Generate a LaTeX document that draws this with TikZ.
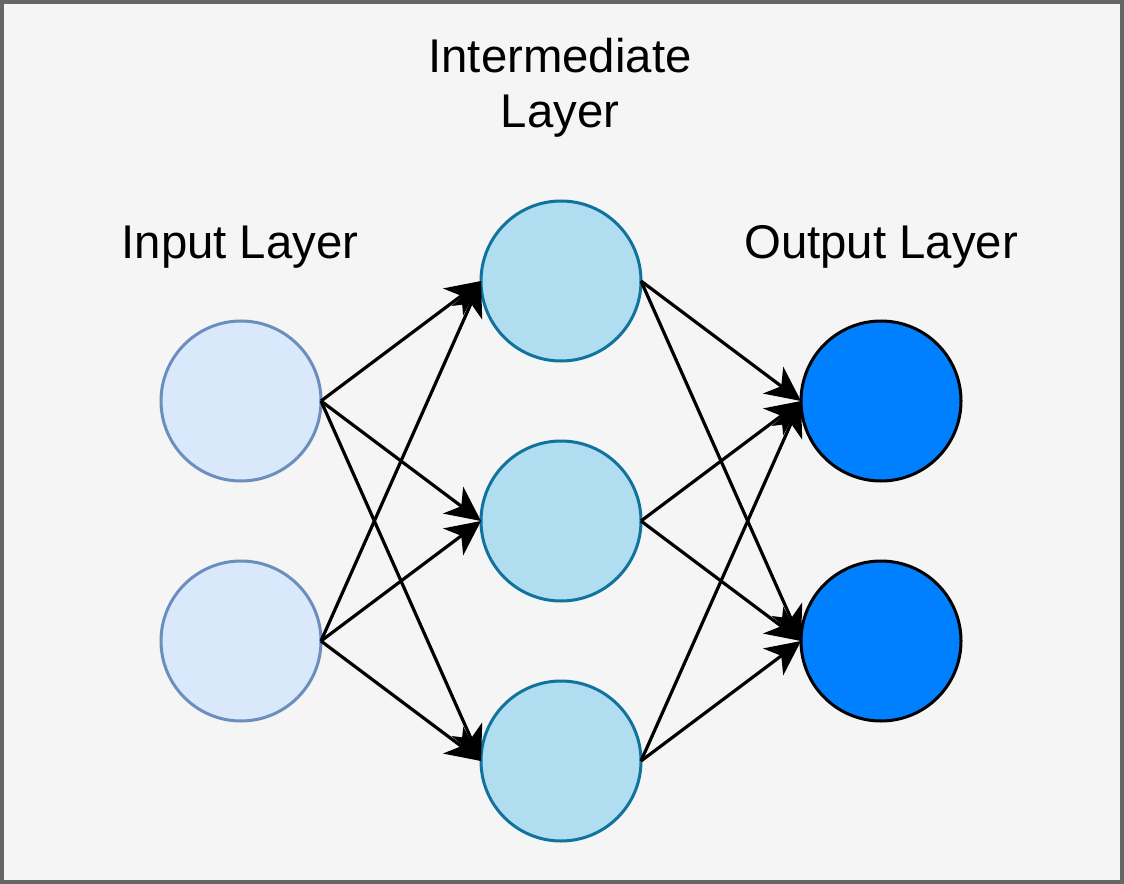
\documentclass[tikz,border=0pt]{standalone}
\usepackage{fontspec}
\setmainfont{Liberation Sans}
\usetikzlibrary{arrows.meta}
\definecolor{bgc}{HTML}{F5F5F5}
\definecolor{frame}{HTML}{666666}
\definecolor{inFill}{HTML}{DAE8FC}
\definecolor{inLine}{HTML}{6C8EBF}
\definecolor{midFill}{HTML}{B1DDF0}
\definecolor{midLine}{HTML}{10739E}
\definecolor{outFill}{HTML}{007FFF}
\begin{document}
\begin{tikzpicture}[x=0.75pt,y=-0.75pt,
  neuron/.style={circle,minimum size=120pt,inner sep=0pt,outer sep=0pt,line width=2.25pt},
  inp/.style={neuron,fill=inFill,draw=inLine},
  midn/.style={neuron,fill=midFill,draw=midLine},
  outn/.style={neuron,fill=outFill,draw=black},
  conn/.style={line width=2.4pt,-{Stealth[length=26pt,width=25pt,inset=7.5pt]}},
  lbl/.style={font=\fontsize{35.5}{41}\selectfont,align=center,inner sep=0pt}]
\useasboundingbox (0,0) rectangle (1124,884);
\fill[bgc] (0,0) rectangle (1124,884);
\draw[draw=frame,line width=3pt] (2,2) rectangle (1122,882);

\node[lbl] (tin) at (240,247) {Input Layer};
\node[lbl] (tmid) at (560,88) {Intermediate\\Layer};
\node[lbl] (tout) at (881,247) {Output Layer};

\node[inp] (i1) at (241,401) {};
\node[inp] (i2) at (241,641) {};
\node[midn] (m1) at (561,281) {};
\node[midn] (m2) at (561,521) {};
\node[midn] (m3) at (561,761) {};
\node[outn] (o1) at (881,401) {};
\node[outn] (o2) at (881,641) {};

\foreach \a in {i1,i2}{
  \foreach \b in {m1,m2,m3}{
    \draw[conn] (\a.east) -- (\b.west);
  }
}
\foreach \a in {m1,m2,m3}{
  \foreach \b in {o1,o2}{
    \draw[conn] (\a.east) -- (\b.west);
  }
}
\end{tikzpicture}
\end{document}
